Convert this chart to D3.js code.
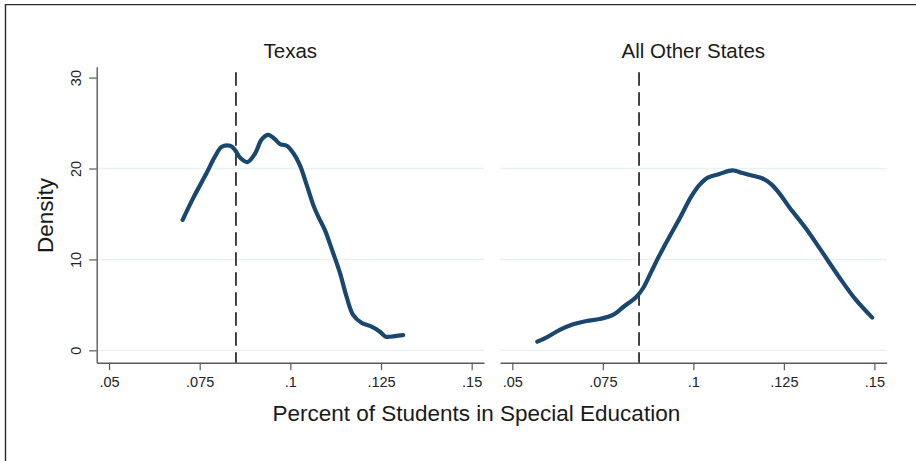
<!DOCTYPE html>
<html>
<head>
<meta charset="utf-8">
<script src="https://cdn.jsdelivr.net/npm/d3@7"></script>
<style>
  html, body { margin: 0; padding: 0; background: #fff; }
  svg { display: block; }
  text { font-family: "Liberation Sans", Arial, Helvetica, sans-serif; }
</style>
</head>
<body>
<svg id="chart" width="916" height="461"></svg>
<script>
// ---------- data ----------
const panels = ["Texas", "All Other States"];
const xTicks = [0.05, 0.075, 0.1, 0.125, 0.15];
const xTickLabels = [".05", ".075", ".1", ".125", ".15"];
const yTicks = [0, 10, 20, 30];
const yTickLabels = ["0", "10", "20", "30"];
const gridValues = [0, 10, 20];
const cutoff = 0.085;

const texasX = [0.0703, 0.0732, 0.0769, 0.0792, 0.0811, 0.0834, 0.0847, 0.0861, 0.0881, 0.0902, 0.0921, 0.0939, 0.0958, 0.0971, 0.0990, 0.1008, 0.1026, 0.1045, 0.1063, 0.1077, 0.1095, 0.1118, 0.1137, 0.1155, 0.1173, 0.1196, 0.1224, 0.1247, 0.1263, 0.1288, 0.1311];
const texasY = [14.35, 16.74, 19.5, 21.3, 22.4, 22.5, 22.06, 21.2, 20.7, 21.6, 23.2, 23.7, 23.2, 22.7, 22.5, 21.7, 20.4, 18.2, 16.0, 14.7, 13.25, 10.7, 8.5, 5.9, 3.9, 3.04, 2.6, 2.05, 1.5, 1.57, 1.68];

const otherX = [0.0569, 0.0595, 0.0631, 0.0668, 0.0705, 0.0741, 0.0778, 0.0810, 0.0843, 0.0861, 0.0884, 0.0907, 0.0934, 0.0962, 0.0994, 0.1017, 0.1040, 0.1072, 0.1108, 0.1136, 0.1164, 0.1191, 0.1214, 0.1237, 0.1265, 0.1311, 0.1356, 0.1402, 0.1448, 0.1494];
const otherY = [0.95, 1.43, 2.24, 2.86, 3.23, 3.45, 3.89, 4.88, 5.9, 6.83, 8.66, 10.5, 12.5, 14.5, 16.9, 18.2, 19.0, 19.4, 19.8, 19.5, 19.2, 18.9, 18.3, 17.3, 15.75, 13.4, 10.8, 8.1, 5.6, 3.6];

const series = [
  d3.zip(texasX, texasY),
  d3.zip(otherX, otherY)
];

// ---------- layout ----------
const svg = d3.select("#chart");
const font = '"Liberation Sans", Arial, Helvetica, sans-serif';

// outer frame (top & left edges visible)
svg.append("line").attr("x1", 5.5).attr("x2", 916).attr("y1", 4.6).attr("y2", 4.6)
  .attr("stroke", "#2b2b2b").attr("stroke-width", 1.4);
svg.append("line").attr("x1", 5.5).attr("x2", 5.5).attr("y1", 4).attr("y2", 461)
  .attr("stroke", "#2b2b2b").attr("stroke-width", 1.4);

const panelRanges = [[96.7, 484], [500, 886.7]];
const xDomain = [0.0466, 0.1534];
const y = d3.scaleLinear().domain([-1.36, 31.2]).range([362.7, 66.7]);

const axisColor = "#5a5a5a";
const line = d3.line().curve(d3.curveCatmullRom.alpha(0.5));

panels.forEach((name, i) => {
  const x = d3.scaleLinear().domain(xDomain).range(panelRanges[i]);
  const g = svg.append("g");

  // gridlines
  g.selectAll("line.grid").data(gridValues).join("line")
    .attr("class", "grid")
    .attr("x1", panelRanges[i][0]).attr("x2", panelRanges[i][1])
    .attr("y1", d => y(d)).attr("y2", d => y(d))
    .attr("stroke", "#e8f1f4").attr("stroke-width", 1.4);

  // x axis
  const xa = g.append("g").attr("transform", `translate(0,${y.range()[0]})`)
    .call(d3.axisBottom(x).tickValues(xTicks)
      .tickFormat((d, k) => xTickLabels[k]).tickSize(7.5).tickSizeOuter(0));
  xa.attr("font-size", null).attr("font-family", null);
  xa.select(".domain").attr("stroke", axisColor).attr("stroke-width", 1.4);
  xa.selectAll(".tick line").attr("stroke", axisColor).attr("stroke-width", 1.2);
  xa.selectAll(".tick text")
    .style("font-family", font).style("font-size", "14.5px")
    .attr("fill", "#222").attr("dy", null).attr("y", 24.3);

  // y axis only on first panel
  if (i === 0) {
    const ya = g.append("g").attr("transform", `translate(${panelRanges[0][0]},0)`)
      .call(d3.axisLeft(y).tickValues(yTicks)
        .tickFormat((d, k) => yTickLabels[k]).tickSize(7.5).tickSizeOuter(0));
    ya.attr("font-size", null).attr("font-family", null);
    ya.select(".domain").attr("stroke", axisColor).attr("stroke-width", 1.4);
    ya.selectAll(".tick line").attr("stroke", axisColor).attr("stroke-width", 1.2);
    ya.selectAll(".tick text")
      .style("font-family", font).style("font-size", "14.5px").attr("fill", "#222")
      .attr("transform", "rotate(-90)")
      .attr("text-anchor", "middle")
      .attr("x", 0).attr("y", -20.5).attr("dy", "0.35em");
  }

  // cutoff dashed line
  g.append("line")
    .attr("x1", x(cutoff)).attr("x2", x(cutoff))
    .attr("y1", 72.3).attr("y2", y.range()[0])
    .attr("stroke", "#3a3a3a").attr("stroke-width", 1.9)
    .attr("stroke-dasharray", "13.5,6.5");

  // density curve
  g.append("path")
    .datum(series[i].map(d => [x(d[0]), y(d[1])]))
    .attr("d", line)
    .attr("fill", "none")
    .attr("stroke", "#1a476f")
    .attr("stroke-width", 4.2)
    .attr("stroke-linecap", "round")
    .attr("stroke-linejoin", "round");

  // panel title
  g.append("text")
    .attr("x", (panelRanges[i][0] + panelRanges[i][1]) / 2)
    .attr("y", 58)
    .attr("text-anchor", "middle")
    .style("font-family", font).style("font-size", "20.5px").attr("fill", "#1a1a1a")
    .text(name);
});

// axis titles
svg.append("text")
  .attr("x", 476.3).attr("y", 420.5)
  .attr("text-anchor", "middle")
  .style("font-family", font).style("font-size", "22.5px").attr("fill", "#1a1a1a")
  .text("Percent of Students in Special Education");

svg.append("text")
  .attr("transform", "translate(52.5,215.5) rotate(-90)")
  .attr("text-anchor", "middle")
  .style("font-family", font).style("font-size", "22.5px").attr("fill", "#1a1a1a")
  .text("Density");
</script>
</body>
</html>
